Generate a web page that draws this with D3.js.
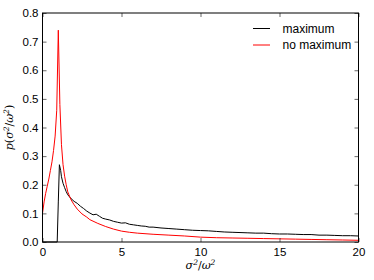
<!DOCTYPE html>
<html>
<head>
<meta charset="utf-8">
<script src="https://cdn.jsdelivr.net/npm/d3@7"></script>
<style>
  body { margin: 0; background: #fff; }
  text { font-family: "Liberation Sans", Arial, sans-serif; }
</style>
</head>
<body>
<div id="chart"></div>
<script>
// series: with maximum (black)
const maxX = [0, 0.93, 1.0, 1.07, 1.15, 1.2, 1.3, 1.4, 1.5, 1.6, 1.8, 2.0, 2.2, 2.4, 2.6, 2.8, 3.0, 3.2, 3.4, 3.6, 3.8,
  4.0, 4.25, 4.5, 4.75, 5.0, 5.25, 5.5, 5.75, 6.0, 6.25, 6.5, 6.75, 7.0, 7.5, 8.0, 8.5, 9.0, 9.5, 10.0, 10.5, 11.0,
  11.5, 12.0, 12.5, 13.0, 13.5, 14.0, 14.5, 15.0, 15.5, 16.0, 16.5, 17.0, 17.5, 18.0, 18.5, 19.0, 19.5, 20.0];
const maxY = [0, 0, 0.14, 0.27, 0.25, 0.228, 0.205, 0.19, 0.176, 0.165, 0.152, 0.142, 0.135, 0.125, 0.117, 0.108, 0.101,
  0.095, 0.097, 0.09, 0.083, 0.08, 0.077, 0.072, 0.069, 0.066, 0.067, 0.062, 0.06, 0.058, 0.056, 0.055, 0.052, 0.052,
  0.049, 0.047, 0.045, 0.043, 0.041, 0.040, 0.039, 0.037, 0.035, 0.034, 0.033, 0.032, 0.031, 0.031, 0.029, 0.028,
  0.028, 0.027, 0.026, 0.026, 0.024, 0.024, 0.023, 0.022, 0.022, 0.021];

// series: no maximum (red)
const noMaxX = [0, 0.1, 0.2, 0.3, 0.4, 0.5, 0.6, 0.7, 0.8, 0.9, 1.0, 1.1, 1.2, 1.3, 1.4, 1.5, 1.6, 1.8, 2.0, 2.2, 2.5,
  2.8, 3.0, 3.5, 4.0, 4.5, 5.0, 5.5, 6.0, 7.0, 8.0, 9.0, 10.0, 11.0, 12.0, 13.0, 14.0, 15.0, 16.0, 17.0, 18.0, 19.0, 20.0];
const noMaxY = [0.10, 0.14, 0.17, 0.195, 0.22, 0.25, 0.28, 0.32, 0.37, 0.46, 0.74, 0.48, 0.34, 0.27, 0.23, 0.20, 0.175,
  0.148, 0.13, 0.115, 0.098, 0.087, 0.078, 0.065, 0.054, 0.045, 0.038, 0.034, 0.031, 0.027, 0.024, 0.021, 0.017,
  0.015, 0.014, 0.013, 0.012, 0.011, 0.010, 0.009, 0.008, 0.007, 0.006];

const xTicks = [0, 5, 10, 15, 20];
const yTicks = [0.0, 0.1, 0.2, 0.3, 0.4, 0.5, 0.6, 0.7, 0.8];
const legendLabels = ["maximum", "no maximum"];
const colors = ["#000000", "#ff0000"];

const width = 374;
const height = 280;
const margin = {top: 13, right: 15.5, bottom: 38, left: 42.5};

const svg = d3.select("#chart")
    .append("svg")
    .attr("width", width)
    .attr("height", height);

const x = d3.scaleLinear().domain([0, 20]).range([margin.left, width - margin.right]);
const y = d3.scaleLinear().domain([0, 0.8]).range([height - margin.bottom, margin.top]);

const line = d3.line()
    .x(d => x(d[0]))
    .y(d => y(d[1]));

// curves
const series = [
    d3.zip(maxX, maxY),
    d3.zip(noMaxX, noMaxY)
];
svg.selectAll(".curve")
    .data(series)
    .enter()
    .append("path")
    .attr("class", "curve")
    .attr("d", line)
    .attr("fill", "none")
    .attr("stroke", (d, i) => colors[i])
    .attr("stroke-width", 1);

// axes, ticks pointing inward on all four sides
const tickLen = 4;
svg.append("g")
    .attr("transform", `translate(0,${y(0)})`)
    .call(d3.axisBottom(x).tickValues(xTicks).tickSizeInner(-tickLen).tickSizeOuter(0).tickPadding(6))
    .call(g => g.select(".domain").remove());
svg.append("g")
    .attr("transform", `translate(0,${y(0.8)})`)
    .call(d3.axisTop(x).tickValues(xTicks).tickSizeInner(-tickLen).tickSizeOuter(0).tickFormat(""))
    .call(g => g.select(".domain").remove());
svg.append("g")
    .attr("transform", `translate(${x(0)},0)`)
    .call(d3.axisLeft(y).tickValues(yTicks).tickSizeInner(-tickLen).tickSizeOuter(0).tickPadding(4).tickFormat(d3.format(".1f")))
    .call(g => g.select(".domain").remove());
svg.append("g")
    .attr("transform", `translate(${x(20)},0)`)
    .call(d3.axisRight(y).tickValues(yTicks).tickSizeInner(-tickLen).tickSizeOuter(0).tickFormat(""))
    .call(g => g.select(".domain").remove());

svg.selectAll(".tick text")
    .attr("font-size", 11.5)
    .attr("fill", "#000")
    .style("font-family", "'Liberation Sans', Arial, sans-serif");
svg.selectAll(".tick line").attr("stroke", "#000").attr("stroke-width", 0.6);

// frame
svg.append("rect")
    .attr("x", x(0))
    .attr("y", y(0.8))
    .attr("width", x(20) - x(0))
    .attr("height", y(0) - y(0.8))
    .attr("fill", "none")
    .attr("stroke", "#000")
    .attr("stroke-width", 1);

// axis labels (mathtext style)
const mathFont = "'DejaVu Serif', 'Liberation Serif', serif";
const xl = svg.append("text")
    .attr("x", (x(0) + x(20)) / 2)
    .attr("y", 269)
    .attr("text-anchor", "middle")
    .attr("font-size", 11)
    .style("font-family", mathFont)
    .style("font-style", "italic");
xl.append("tspan").text("σ");
xl.append("tspan").attr("dy", -4.5).attr("font-size", 7.5).text("2");
xl.append("tspan").attr("dy", 4.5).style("font-style", "normal").text("/");
xl.append("tspan").text("ω");
xl.append("tspan").attr("dy", -4.5).attr("font-size", 7.5).text("2");

const yl = svg.append("text")
    .attr("transform", `translate(13,${(y(0) + y(0.8)) / 2}) rotate(-90)`)
    .attr("text-anchor", "middle")
    .attr("font-size", 11)
    .style("font-family", mathFont)
    .style("font-style", "italic");
yl.append("tspan").text("p");
yl.append("tspan").style("font-style", "normal").text("(");
yl.append("tspan").text("σ");
yl.append("tspan").attr("dy", -4.5).attr("font-size", 7.5).text("2");
yl.append("tspan").attr("dy", 4.5).style("font-style", "normal").text("/");
yl.append("tspan").text("ω");
yl.append("tspan").attr("dy", -4.5).attr("font-size", 7.5).text("2");
yl.append("tspan").attr("dy", 4.5).style("font-style", "normal").text(")");

// legend
const legend = svg.append("g");
legendLabels.forEach((label, i) => {
    const ly = 28.5 + i * 16.5;
    legend.append("line")
        .attr("x1", 253).attr("x2", 270)
        .attr("y1", ly).attr("y2", ly)
        .attr("stroke", colors[i])
        .attr("stroke-width", 1);
    legend.append("text")
        .attr("x", 282.5)
        .attr("y", ly + 4)
        .attr("font-size", 12)
        .text(label);
});
</script>
</body>
</html>
